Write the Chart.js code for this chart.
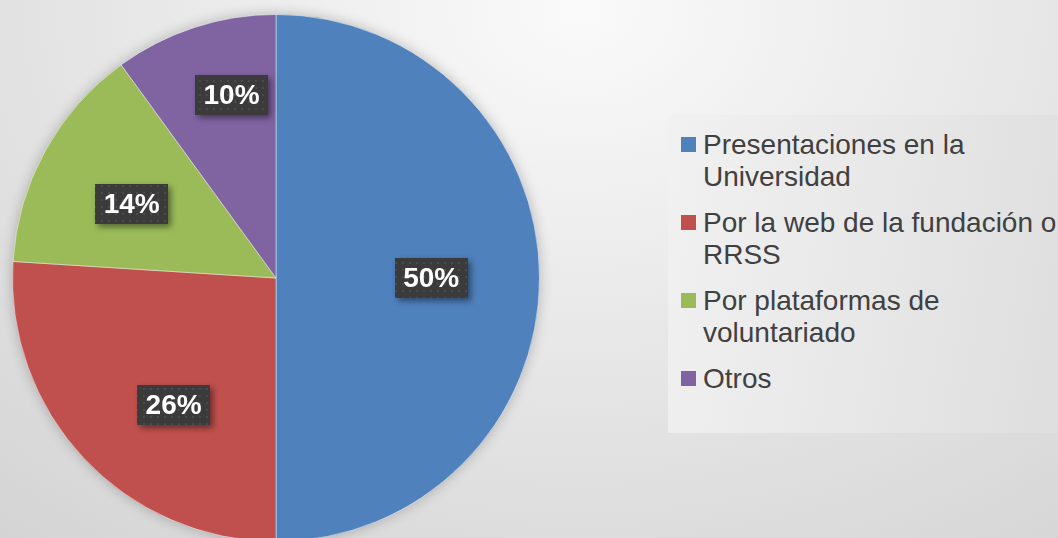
<!DOCTYPE html>
<html>
<head>
<meta charset="utf-8">
<script src="https://cdn.jsdelivr.net/npm/chart.js@4"></script>
<style>
  html, body { margin: 0; padding: 0; width: 1058px; height: 538px; overflow: hidden; }
  body {
    background: radial-gradient(ellipse 950px 720px at 580px 10px, #fafafa 0%, #e6e6e6 50%, #d2d2d2 100%);
    font-family: "Liberation Sans", Arial, sans-serif;
  }
  #wrap { position: absolute; left: 0; top: 0; width: 1058px; height: 560px; }
  #legend {
    position: absolute; left: 668px; top: 115px; width: 390px; height: 318px;
    background: linear-gradient(100deg, #f1f1f1 0%, #e6e6e6 60%, #dedede 100%);
    box-sizing: border-box; padding-top: 14px;
  }
  .item { position: relative; padding-left: 35px; margin-bottom: 14px;
          font-size: 28px; line-height: 32px; color: #404040; white-space: nowrap; }
  .swatch { position: absolute; left: 13px; top: 8px; width: 15px; height: 15px; }
</style>
</head>
<body>
<div id="wrap"><canvas id="pieChart" width="1058" height="560"></canvas></div>
<div id="legend"></div>
<script>
// categories and values
var categories = [
    ['Presentaciones en la', 'Universidad'],
    ['Por la web de la fundación o', 'RRSS'],
    ['Por plataformas de', 'voluntariado'],
    ['Otros']
];
var shares = [50, 26, 14, 10];
var colors = ['#4F81BD', '#C0504D', '#9BBB59', '#8064A2'];

// html legend, two lines per item like the original
var legendEl = document.getElementById('legend');
categories.forEach(function (lines, i) {
    var div = document.createElement('div');
    div.className = 'item';
    div.innerHTML = '<span class="swatch" style="background:' + colors[i] + '"></span>' + lines.join('<br>');
    legendEl.appendChild(div);
});

// dotted dark fill for the label boxes
function makeDots(ctx) {
    var c = document.createElement('canvas');
    c.width = 7; c.height = 7;
    var g = c.getContext('2d');
    g.fillStyle = '#3b3b3b';
    g.fillRect(0, 0, 7, 7);
    g.fillStyle = '#4b4b4b';
    g.fillRect(3, 3, 2, 2);
    return ctx.createPattern(c, 'repeat');
}

// soft shadow under the whole pie
var pieShadow = {
    id: 'pieShadow',
    beforeDatasetsDraw: function (chart) {
        var arc = chart.getDatasetMeta(0).data[0];
        if (!arc) return;
        var ctx = chart.ctx;
        ctx.save();
        ctx.shadowColor = 'rgba(0,0,0,0.28)';
        ctx.shadowBlur = 14;
        ctx.fillStyle = '#888';
        ctx.beginPath();
        ctx.arc(arc.x, arc.y, arc.outerRadius - 1, 0, Math.PI * 2);
        ctx.fill();
        ctx.restore();
    }
};

// percentage boxes on the slices
var sliceLabels = {
    id: 'sliceLabels',
    afterDatasetsDraw: function (chart, args, opts) {
        var ctx = chart.ctx;
        var data = chart.data.datasets[0].data;
        var total = data.reduce(function (a, b) { return a + b; }, 0);
        var dots = makeDots(ctx);
        chart.getDatasetMeta(0).data.forEach(function (arc, i) {
            var mid = (arc.startAngle + arc.endAngle) / 2 + opts.shift[i] * Math.PI / 180;
            var r = arc.outerRadius * opts.radius[i];
            var x = arc.x + Math.cos(mid) * r;
            var y = arc.y + Math.sin(mid) * r;
            var w = 73, h = 40;
            ctx.save();
            ctx.shadowColor = 'rgba(0,0,0,0.45)';
            ctx.shadowBlur = 6;
            ctx.shadowOffsetX = 3;
            ctx.shadowOffsetY = 3;
            ctx.fillStyle = dots;
            ctx.fillRect(Math.round(x - w / 2), Math.round(y - h / 2), w, h);
            ctx.restore();
            ctx.save();
            ctx.fillStyle = '#ffffff';
            ctx.font = 'bold 28px "Liberation Sans", Arial, sans-serif';
            ctx.textAlign = 'center';
            ctx.textBaseline = 'middle';
            ctx.fillText(Math.round(data[i] / total * 100) + '%', x, y + 1);
            ctx.restore();
        });
    }
};

var ctx = document.getElementById('pieChart').getContext('2d');
new Chart(ctx, {
    type: 'pie',
    data: {
        labels: categories.map(function (l) { return l.join(' '); }),
        datasets: [{
            data: shares,
            backgroundColor: colors,
            borderColor: 'rgba(255,255,255,0.45)',
            borderWidth: 1
        }]
    },
    options: {
        responsive: false,
        animation: false,
        layout: { padding: { left: 12, top: 14, right: 518, bottom: 18 } },
        plugins: {
            legend: { display: false },
            tooltip: { enabled: false },
            sliceLabels: {
                radius: [0.589, 0.62, 0.615, 0.713],
                shift: [0, -8, -1.7, 4.3]
            }
        }
    },
    plugins: [pieShadow, sliceLabels]
});
</script>
</body>
</html>
